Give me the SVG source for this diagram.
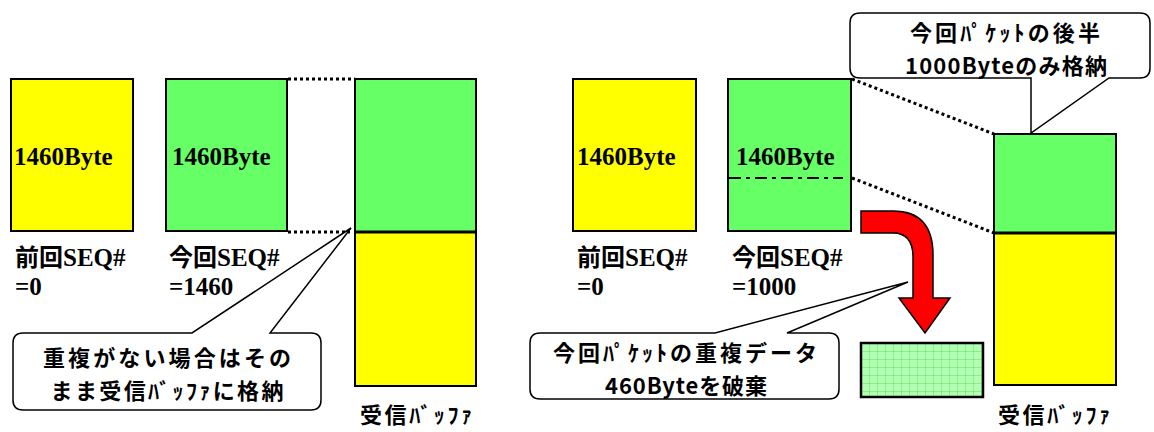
<svg xmlns="http://www.w3.org/2000/svg" width="1154" height="432" viewBox="0 0 1154 432">
<defs>
<style>
.box{stroke:#000;stroke-width:2}
.y{fill:#ffff00}
.g{fill:#66ff66}
.dot{stroke:#000;stroke-width:3;stroke-dasharray:3 3;fill:none}
.call{fill:#fff;stroke:#000;stroke-width:1.5}
.ser{font-family:"Liberation Serif","Times New Roman",serif;font-weight:bold;font-size:25px;fill:#000}
.jp{font-family:"Noto Sans CJK JP","Noto Sans",sans-serif;font-weight:bold;font-size:22px;fill:#000}
.lab{font-size:24px}
.ct{text-anchor:middle}
</style>
<pattern id="grid" width="8" height="8" patternUnits="userSpaceOnUse" x="861" y="343">
<rect width="8" height="8" fill="#b3ffb3"/>
<path d="M0,0 H8 M0,0 V8" stroke="#5fe05f" stroke-width="1" fill="none"/>
</pattern>
</defs>
<rect width="1154" height="432" fill="#fff"/>

<g id="connectors">
<line class="dot" x1="288" y1="79" x2="355" y2="79"/>
<line class="dot" x1="288" y1="232" x2="350" y2="232"/>
<line class="dot" x1="852" y1="79" x2="994" y2="134"/>
<line class="dot" x1="852" y1="178" x2="994" y2="233"/>
<path id="discard-arrow" d="M861,211 L893,211 Q933,211 933,255 L933,298 L950,298 L925,333 L899,298 L913,298 L913,257 Q913,233 893,233 L861,233 Z" fill="#ff0000" stroke="#000" stroke-width="1.5"/>
</g>

<g id="left-prev">
<rect class="box y" x="11" y="79" width="122" height="152"/>
<text class="ser" x="14" y="165">1460Byte</text>
<text x="15" y="266"><tspan class="jp lab">前回</tspan><tspan class="ser">SEQ#</tspan></text>
<text class="ser" x="15" y="295">=0</text>
</g>

<g id="left-curr">
<rect class="box g" x="166" y="79" width="121" height="152"/>
<text class="ser" x="172" y="165">1460Byte</text>
<text x="169" y="266"><tspan class="jp lab">今回</tspan><tspan class="ser">SEQ#</tspan></text>
<text class="ser" x="169" y="295">=1460</text>
</g>

<g id="left-buffer">
<rect class="box g" x="355" y="79" width="121" height="153"/>
<rect class="box y" x="355" y="232" width="121" height="154"/>
<line x1="355" y1="232" x2="476" y2="232" stroke="#000" stroke-width="3"/>
<text class="jp" x="360" y="423" textLength="112">受信ﾊﾞｯﾌｧ</text>
</g>

<g id="left-callout">
<path class="call" d="M23,333 L192,333 L351,228 L270,333 L311,333 Q321,333 321,343 L321,400 Q321,410 311,410 L23,410 Q13,410 13,400 L13,343 Q13,333 23,333 Z"/>
<text class="jp ct" x="167" y="366" textLength="248">重複がない場合はその</text>
<text class="jp ct" x="167" y="399" textLength="233">まま受信ﾊﾞｯﾌｧに格納</text>
</g>

<g id="right-prev">
<rect class="box y" x="573" y="79" width="123" height="152"/>
<text class="ser" x="577" y="165">1460Byte</text>
<text x="577" y="266"><tspan class="jp lab">前回</tspan><tspan class="ser">SEQ#</tspan></text>
<text class="ser" x="577" y="295">=0</text>
</g>

<g id="right-curr">
<rect class="box g" x="728" y="79" width="123" height="152"/>
<line x1="729" y1="178" x2="843" y2="178" stroke="#000" stroke-width="2" stroke-dasharray="12 5 4 5"/>
<text class="ser" x="736" y="165">1460Byte</text>
<text x="732" y="266"><tspan class="jp lab">今回</tspan><tspan class="ser">SEQ#</tspan></text>
<text class="ser" x="732" y="295">=1000</text>
</g>

<g id="right-buffer">
<rect class="box g" x="994" y="134" width="122" height="99"/>
<rect class="box y" x="994" y="233" width="122" height="152"/>
<line x1="994" y1="233" x2="1116" y2="233" stroke="#000" stroke-width="3"/>
<text class="jp" x="998" y="423" textLength="112">受信ﾊﾞｯﾌｧ</text>
</g>

<g id="discarded">
<rect x="861" y="343" width="122" height="54" fill="url(#grid)" stroke="#000" stroke-width="2.5"/>
</g>

<g id="top-callout">
<path class="call" d="M860,13 L1140,13 Q1150,13 1150,23 L1150,68 Q1150,78 1140,78 L1109,78 L1031,133 L1031,78 L860,78 Q850,78 850,68 L850,23 Q850,13 860,13 Z"/>
<text class="jp ct" x="1005" y="41" textLength="190">今回ﾊﾟｹｯﾄの後半</text>
<text class="jp ct" x="1006" y="74" textLength="202">1000Byteのみ格納</text>
</g>

<g id="bottom-callout">
<path class="call" d="M540,333 L715,333 L908,282 L787,333 L829,333 Q839,333 839,343 L839,389 Q839,399 829,399 L540,399 Q530,399 530,389 L530,343 Q530,333 540,333 Z"/>
<text class="jp ct" x="685" y="361" textLength="264">今回ﾊﾟｹｯﾄの重複データ</text>
<text class="jp ct" x="686" y="394" textLength="162">460Byteを破棄</text>
</g>
</svg>
